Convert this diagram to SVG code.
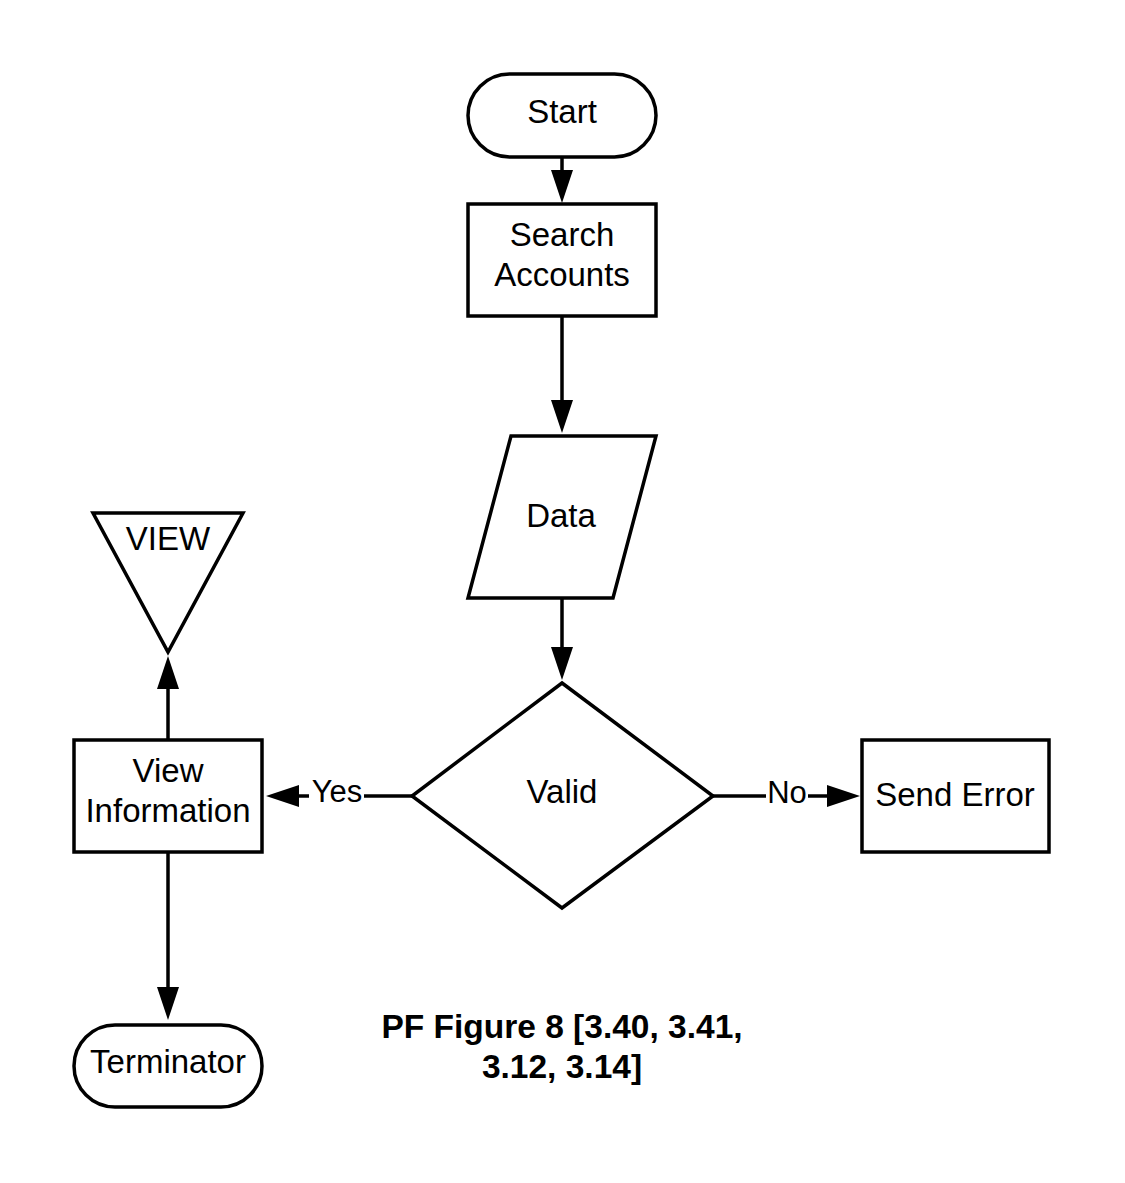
<svg xmlns="http://www.w3.org/2000/svg" width="1125" height="1183" viewBox="0 0 1125 1183">
<style>
.shape{fill:#fff;stroke:#000;stroke-width:3.5}
.conn{fill:none;stroke:#000;stroke-width:3.5}
.t{font-family:"Liberation Sans",Arial,sans-serif;font-size:33px;fill:#000;text-anchor:middle}
.lbl{font-family:"Liberation Sans",Arial,sans-serif;font-size:31px;fill:#000;text-anchor:middle}
.cap{font-family:"Liberation Sans",Arial,sans-serif;font-size:33.5px;font-weight:bold;fill:#000;text-anchor:middle}
</style>
<defs>
<marker id="ah" markerUnits="userSpaceOnUse" viewBox="0 0 33 22" refX="0" refY="11" markerWidth="33" markerHeight="22" orient="auto">
<path d="M0,0 L33,11 L0,22 Z" fill="#000"/>
</marker>
</defs>
<rect width="1125" height="1183" fill="#fff"/>
<g id="connectors">
<path class="conn" d="M562,158 V170" marker-end="url(#ah)"/>
<path class="conn" d="M562,317 V400" marker-end="url(#ah)"/>
<path class="conn" d="M562,598 V647" marker-end="url(#ah)"/>
<path class="conn" d="M412,796 H299" marker-end="url(#ah)"/>
<rect x="309" y="780" width="55" height="32" fill="#fff"/>
<text class="lbl" x="337" y="802">Yes</text>
<path class="conn" d="M713,796 H827" marker-end="url(#ah)"/>
<rect x="766" y="780" width="42" height="32" fill="#fff"/>
<text class="lbl" x="787" y="803">No</text>
<path class="conn" d="M168,739 V689" marker-end="url(#ah)"/>
<path class="conn" d="M168,853 V987" marker-end="url(#ah)"/>
</g>
<g id="start">
<rect class="shape" x="468" y="74" width="188" height="83" rx="41.5"/>
<text class="t" x="562" y="123">Start</text>
</g>
<g id="search-accounts">
<rect class="shape" x="468" y="204" width="188" height="112"/>
<text class="t" x="562" y="246">Search</text>
<text class="t" x="562" y="286">Accounts</text>
</g>
<g id="data">
<polygon class="shape" points="511,436 656,436 613,598 468,598"/>
<text class="t" x="561" y="527">Data</text>
</g>
<g id="valid">
<polygon class="shape" points="562,683 713,796 562,908 412,796"/>
<text class="t" x="562" y="803">Valid</text>
</g>
<g id="view-information">
<rect class="shape" x="74" y="740" width="188" height="112"/>
<text class="t" x="168" y="782">View</text>
<text class="t" x="168" y="822">Information</text>
</g>
<g id="view">
<polygon class="shape" points="93,513 243,513 168,652"/>
<text class="t" x="168" y="550">VIEW</text>
</g>
<g id="terminator">
<rect class="shape" x="74" y="1025" width="188" height="82" rx="41"/>
<text class="t" x="168" y="1073">Terminator</text>
</g>
<g id="send-error">
<rect class="shape" x="862" y="740" width="187" height="112"/>
<text class="t" x="955" y="806">Send Error</text>
</g>
<g id="caption">
<text class="cap" x="562" y="1038">PF Figure 8 [3.40, 3.41,</text>
<text class="cap" x="562" y="1078">3.12, 3.14]</text>
</g>
</svg>
